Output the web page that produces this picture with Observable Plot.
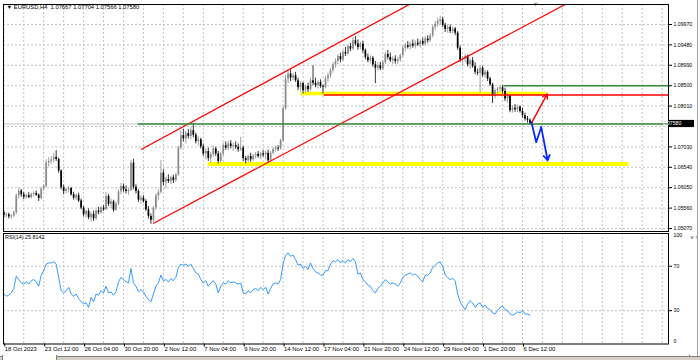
<!DOCTYPE html>
<html><head><meta charset="utf-8">
<script src="https://cdn.jsdelivr.net/npm/d3@7"></script>
<script src="https://cdn.jsdelivr.net/npm/@observablehq/plot@0.6"></script>
<style>
html,body{margin:0;padding:0;background:#fff;}
#chart{position:relative;width:700px;height:360px;overflow:hidden;background:#fff;font-family:"Liberation Sans",Arial,sans-serif;}
#chart svg{position:absolute;left:0;overflow:visible;}
#edge{position:absolute;left:697px;top:0;width:1px;height:360px;background:#a0a0a0;}
#strip{position:absolute;left:0;top:356px;width:700px;height:4px;background:#d4d0c8;border-top:1px solid #808080;}
#tab{position:absolute;left:2px;top:355px;width:53px;height:5px;background:#fff;border-left:1px solid #808080;border-right:1px solid #808080;}
</style></head><body><div id="chart"><div id="edge"></div><div id="strip"></div><div id="tab"></div></div>
<script>
// ---------- data ----------
const symbol = "EURUSD", timeframe = "H4", rsiPeriod = 14;
const opens = [1.0545,1.0538,1.0540,1.0535,1.0537,1.0545,1.0585,1.0597,1.0588,1.0582,1.0586,1.0581,1.0589,1.0591,1.0587,1.0579,1.0602,1.0608,1.0664,1.0668,
1.0672,1.0678,1.0673,1.0645,1.0605,1.0596,1.0600,1.0603,1.0588,1.0580,1.0586,1.0573,1.0556,1.0540,1.0548,1.0533,1.0541,1.0530,1.0549,1.0545,
1.0556,1.0552,1.0584,1.0565,1.0571,1.0551,1.0566,1.0595,1.0608,1.0600,1.0596,1.0598,1.0664,1.0606,1.0596,1.0575,1.0580,1.0572,1.0552,1.0536,
1.0527,1.0556,1.0585,1.0594,1.0640,1.0618,1.0625,1.0620,1.0629,1.0622,1.0636,1.0700,1.0730,1.0722,1.0735,1.0728,1.0742,1.0731,1.0716,1.0720,
1.0703,1.0686,1.0692,1.0675,1.0684,1.0698,1.0686,1.0668,1.0686,1.0706,1.0700,1.0710,1.0704,1.0706,1.0702,1.0696,1.0700,1.0675,1.0670,1.0680,
1.0672,1.0681,1.0685,1.0680,1.0686,1.0683,1.0688,1.0670,1.0688,1.0697,1.0700,1.0698,1.0718,1.0795,1.0866,1.0878,1.0868,1.0874,1.0862,1.0845,
1.0855,1.0838,1.0848,1.0840,1.0862,1.0856,1.0850,1.0858,1.0848,1.0846,1.0866,1.0874,1.0886,1.0900,1.0908,1.0920,1.0912,1.0930,1.0926,1.0944,
1.0938,1.0958,1.0950,1.0942,1.0950,1.0934,1.0918,1.0910,1.0916,1.0900,1.0892,1.0898,1.0890,1.0905,1.0925,1.0918,1.0910,1.0914,1.0908,1.0912,
1.0922,1.0940,1.0946,1.0942,1.0950,1.0945,1.0952,1.0948,1.0956,1.0950,1.0962,1.0958,1.0970,1.0990,1.0998,1.1004,1.1008,1.0995,1.0985,1.0990,
1.0980,1.0986,1.0976,1.0940,1.0912,1.0915,1.0920,1.0900,1.0910,1.0896,1.0882,1.0880,1.0892,1.0875,1.0882,1.0866,1.0852,1.0825,1.0838,1.0842,
1.0845,1.0836,1.0818,1.0825,1.0790,1.0796,1.0792,1.0798,1.0788,1.0778,1.0770,1.07667];
const highs = [1.0550,1.0545,1.0544,1.0541,1.0548,1.0590,1.0604,1.0601,1.0594,1.0590,1.0593,1.0592,1.0595,1.0597,1.0590,1.0606,1.0612,1.0672,1.0677,1.0680,
1.0688,1.0694,1.0676,1.0648,1.0611,1.0604,1.0608,1.0606,1.0594,1.0590,1.0592,1.0578,1.0560,1.0552,1.0554,1.0545,1.0549,1.0553,1.0558,1.0560,
1.0562,1.0593,1.0589,1.0578,1.0575,1.0570,1.0600,1.0615,1.0614,1.0609,1.0603,1.0670,1.0673,1.0612,1.0600,1.0585,1.0586,1.0576,1.0560,1.0542,
1.0560,1.0590,1.0600,1.0670,1.0648,1.0630,1.0636,1.0633,1.0635,1.0640,1.0705,1.0742,1.0745,1.0740,1.0745,1.0750,1.0758,1.0736,1.0728,1.0724,
1.0710,1.0698,1.0700,1.0690,1.0705,1.0702,1.0692,1.0690,1.0712,1.0715,1.0716,1.0718,1.0712,1.0715,1.0710,1.0726,1.0704,1.0680,1.0684,1.0688,
1.0685,1.0690,1.0692,1.0690,1.0694,1.0692,1.0695,1.0692,1.0702,1.0705,1.0706,1.0722,1.0800,1.0875,1.0885,1.0888,1.0880,1.0882,1.0868,1.0860,
1.0858,1.0852,1.0856,1.0868,1.0898,1.0868,1.0862,1.0864,1.0852,1.0872,1.0880,1.0892,1.0905,1.0915,1.0925,1.0928,1.0935,1.0942,1.0948,1.0952,
1.0966,1.0968,1.0960,1.0955,1.0956,1.0938,1.0926,1.0922,1.0920,1.0908,1.0905,1.0906,1.0910,1.0930,1.0935,1.0928,1.0920,1.0922,1.0918,1.0926,
1.0945,1.0952,1.0956,1.0955,1.0960,1.0958,1.0962,1.0960,1.0964,1.0968,1.0970,1.0975,1.0995,1.1005,1.1012,1.1017,1.1014,1.1000,1.0995,1.0996,
1.0992,1.0990,1.0980,1.0945,1.0920,1.0925,1.0924,1.0915,1.0918,1.0905,1.0890,1.0898,1.0896,1.0888,1.0886,1.0870,1.0856,1.0842,1.0846,1.0850,
1.0850,1.0844,1.0830,1.0828,1.0802,1.0805,1.0803,1.0802,1.0796,1.0784,1.0776,1.07704];
const lows = [1.0533,1.0532,1.0530,1.0529,1.0533,1.0540,1.0578,1.0582,1.0576,1.0577,1.0579,1.0578,1.0583,1.0584,1.0572,1.0576,1.0596,1.0604,1.0655,1.0660,
1.0665,1.0668,1.0640,1.0600,1.0588,1.0590,1.0592,1.0585,1.0575,1.0574,1.0570,1.0552,1.0535,1.0532,1.0528,1.0522,1.0524,1.0527,1.0540,1.0541,
1.0548,1.0550,1.0560,1.0555,1.0546,1.0548,1.0562,1.0588,1.0594,1.0590,1.0587,1.0595,1.0600,1.0590,1.0570,1.0565,1.0568,1.0548,1.0530,1.0517,
1.0522,1.0550,1.0575,1.0590,1.0610,1.0602,1.0615,1.0612,1.0615,1.0618,1.0632,1.0695,1.0715,1.0710,1.0722,1.0720,1.0725,1.0710,1.0705,1.0698,
1.0680,1.0672,1.0668,1.0665,1.0678,1.0680,1.0662,1.0665,1.0680,1.0695,1.0694,1.0698,1.0692,1.0697,1.0690,1.0692,1.0668,1.0662,1.0665,1.0666,
1.0668,1.0674,1.0676,1.0672,1.0678,1.0672,1.0664,1.0667,1.0684,1.0690,1.0692,1.0695,1.0714,1.0790,1.0855,1.0860,1.0862,1.0858,1.0838,1.0835,
1.0830,1.0832,1.0834,1.0836,1.0850,1.0845,1.0842,1.0844,1.0830,1.0842,1.0858,1.0868,1.0880,1.0892,1.0900,1.0905,1.0908,1.0920,1.0922,1.0932,
1.0934,1.0945,1.0935,1.0936,1.0928,1.0912,1.0905,1.0902,1.0895,1.0855,1.0885,1.0886,1.0886,1.0900,1.0912,1.0906,1.0900,1.0902,1.0900,1.0906,
1.0918,1.0932,1.0938,1.0936,1.0940,1.0938,1.0944,1.0940,1.0946,1.0945,1.0952,1.0954,1.0965,1.0982,1.0990,1.0996,1.0990,1.0978,1.0976,1.0975,
1.0974,1.0970,1.0935,1.0905,1.0898,1.0905,1.0895,1.0890,1.0892,1.0876,1.0874,1.0832,1.0870,1.0868,1.0860,1.0848,1.0807,1.0818,1.0830,1.0834,
1.0830,1.0812,1.0808,1.0785,1.0784,1.0786,1.0785,1.0784,1.0772,1.0765,1.0760,1.07566];
const closes = [1.0538,1.0540,1.0535,1.0537,1.0545,1.0585,1.0597,1.0588,1.0582,1.0586,1.0581,1.0589,1.0591,1.0587,1.0579,1.0602,1.0608,1.0664,1.0668,1.0672,
1.0678,1.0673,1.0645,1.0605,1.0596,1.0600,1.0603,1.0588,1.0580,1.0586,1.0573,1.0556,1.0540,1.0548,1.0533,1.0541,1.0530,1.0549,1.0545,1.0556,
1.0552,1.0584,1.0565,1.0571,1.0551,1.0566,1.0595,1.0608,1.0600,1.0596,1.0598,1.0664,1.0606,1.0596,1.0575,1.0580,1.0572,1.0552,1.0536,1.0527,
1.0556,1.0585,1.0594,1.0640,1.0618,1.0625,1.0620,1.0629,1.0622,1.0636,1.0700,1.0730,1.0722,1.0735,1.0728,1.0742,1.0731,1.0716,1.0720,1.0703,
1.0686,1.0692,1.0675,1.0684,1.0698,1.0686,1.0668,1.0686,1.0706,1.0700,1.0710,1.0704,1.0706,1.0702,1.0696,1.0700,1.0675,1.0670,1.0680,1.0672,
1.0681,1.0685,1.0680,1.0686,1.0683,1.0688,1.0670,1.0688,1.0697,1.0700,1.0698,1.0718,1.0795,1.0866,1.0878,1.0868,1.0874,1.0862,1.0845,1.0855,
1.0838,1.0848,1.0840,1.0862,1.0856,1.0850,1.0858,1.0848,1.0846,1.0866,1.0874,1.0886,1.0900,1.0908,1.0920,1.0912,1.0930,1.0926,1.0944,1.0938,
1.0958,1.0950,1.0942,1.0950,1.0934,1.0918,1.0910,1.0916,1.0900,1.0892,1.0898,1.0890,1.0905,1.0925,1.0918,1.0910,1.0914,1.0908,1.0912,1.0922,
1.0940,1.0946,1.0942,1.0950,1.0945,1.0952,1.0948,1.0956,1.0950,1.0962,1.0958,1.0970,1.0990,1.0998,1.1004,1.1008,1.0995,1.0985,1.0990,1.0980,
1.0986,1.0976,1.0940,1.0912,1.0915,1.0920,1.0900,1.0910,1.0896,1.0882,1.0880,1.0892,1.0875,1.0882,1.0866,1.0852,1.0825,1.0838,1.0842,1.0845,
1.0836,1.0818,1.0825,1.0790,1.0796,1.0792,1.0798,1.0788,1.0778,1.0770,1.0767,1.07580];
const rsiValues = [45,43,44,46,50,61,58,55,54,56,54,57,58,56,52,62,66,72,73,73,
74,72,60,48,46,48,51,45,43,45,41,38,36,37,33,42,38,45,44,48,
46,52,46,47,44,47,56,60,58,56,55,68,55,52,47,49,47,43,40,38,
45,52,55,62,57,58,56,59,57,60,69,72,71,72,70,72,68,64,63,58,
55,57,52,55,57,54,46,52,55,54,57,55,56,55,54,55,46,45,48,46,
49,50,48,51,49,51,45,50,54,55,54,58,72,80,82,79,80,76,71,72,
68,70,67,73,68,65,64,62,62,66,66,72,75,74,76,73,75,73,76,74,
77,74,63,64,58,56,53,52,48,46,50,52,55,58,56,54,55,54,52,55,
60,62,63,64,62,63,61,58,56,62,62,64,69,71,73,74,70,62,60,58,
59,57,45,38,34,31,36,39,37,33,36,37,33,35,32,31,28,27,30,33,
34,31,30,27,26,27,29,28,30,27,27,25.8142];
const timeTickIdx = [0,16,32,48,64,80,96,112,128,144,160,176,192,208];
const timeLabels = ["18 Oct 2023","23 Oct 12:00","26 Oct 04:00","30 Oct 20:00","2 Nov 12:00","7 Nov 04:00","9 Nov 20:00","14 Nov 12:00","17 Nov 04:00","21 Nov 20:00","24 Nov 12:00","29 Nov 04:00","1 Dec 20:00","6 Dec 12:00"];
const priceGrid = [1.0507,1.0556,1.0605,1.0654,1.0703,1.0752,1.0801,1.0850,1.0899,1.0948,1.0997];
const priceLabels = [1.0507,1.0556,1.0605,1.0654,1.0703,1.0801,1.0850,1.0899,1.0948,1.0997];
const rsiLevels = [30,70];
const bidPrice = 1.07580;
// drawn objects (bar index, price)
const channelLines = [
  {i1:55.06, p1:1.06968, i2:162.6, p2:1.1045},
  {i1:59.87, p1:1.05190, i2:225.1, p2:1.1045}
];
const levelLines = [
  {p:1.07580, from:53.9, color:"#358a35"},
  {p:1.08500, from:200.6, color:"#358a35"},
  {p:1.08277, from:128.5, color:"#ff0000"}
];
const zones = [
  {i1:119.2, i2:217.9, p1:1.08257, p2:1.08344},
  {i1:81.9, i2:250.7, p1:1.06559, p2:1.06655}
];
const upArrow = [{i1:211.6, p1:1.07600, i2:217.9, p2:1.08300}];
const downPath = [{i:211.6,p:1.07623},{i:213.5,p:1.07143},{i:215.5,p:1.07503}];
const downArrow = [{i1:215.5, p1:1.07503, i2:218.1, p2:1.06703}];
const shiftMarker = [213.3];

// ---------- build ----------
const candles = opens.map((o,i)=>({i, o, h:highs[i], l:lows[i], c:closes[i]}));
const rsiData = rsiValues.map((v,i)=>({i, v}));
const xDomain = [-0.12, 266.55];
const xEnd = xDomain[1];
const gridIdx = d3.range(0, 267, 8);
const FONT = '"Liberation Sans", Arial, sans-serif';
const dash = {stroke:"#c4c4c4", strokeOpacity:1, strokeDasharray:"2,2", strokeWidth:1};
const candleColor = d => d.c >= d.o ? "#8a8a8a" : "#000000";
const last = candles[candles.length-1];
const title = `▼ ${symbol},${timeframe}  ${last.o.toFixed(5)} ${last.h.toFixed(5)} ${last.l.toFixed(5)} ${last.c.toFixed(5)}`;

function bidBox(index, scales, values, dims) {
  const y = scales.y(bidPrice);
  const x0 = dims.width - dims.marginRight + 1;
  const g = d3.create("svg:g");
  g.append("rect").attr("x", x0).attr("y", y-3.6).attr("width", 25).attr("height", 7.2).attr("fill", "#000");
  g.append("text").attr("x", x0+3).attr("y", y).attr("dy","0.35em").attr("fill","#fff")
    .attr("font-size", 5.2).attr("font-family", FONT).text(bidPrice.toFixed(5));
  return g.node();
}

const price = Plot.plot({
  width:700, height:232, marginTop:4, marginBottom:1, marginLeft:3, marginRight:32,
  x:{domain:xDomain, axis:null},
  y:{domain:[1.04998,1.1045], axis:null},
  color:{type:"identity"},
  style:{fontFamily:FONT, background:"transparent", overflow:"visible"},
  marks:[
    Plot.gridX(gridIdx, dash),
    Plot.gridY(priceGrid, dash),
    Plot.ruleY([bidPrice], {stroke:"#c8c8c8", strokeWidth:1.2}),
    Plot.rect(zones, {x1:"i1", x2:"i2", y1:"p1", y2:"p2", fill:"#ffff00"}),
    Plot.ruleX(candles, {x:"i", y1:"l", y2:"h", stroke:candleColor, strokeWidth:0.8}),
    Plot.ruleX(candles, {x:"i", y1:"o", y2:"c", stroke:candleColor, strokeWidth:1.7}),
    Plot.link(channelLines, {x1:"i1", y1:"p1", x2:"i2", y2:"p2", stroke:"#ff0000", strokeWidth:1.3, clip:true}),
    Plot.ruleY(levelLines, {y:"p", x1:"from", x2:()=>xEnd, stroke:"color", strokeWidth:1.5}),
    Plot.arrow(upArrow, {x1:"i1", y1:"p1", x2:"i2", y2:"p2", stroke:"#ff0000", strokeWidth:1.5, headLength:5}),
    Plot.line(downPath, {x:"i", y:"p", stroke:"#0a28ff", strokeWidth:1.8}),
    Plot.arrow(downArrow, {x1:"i1", y1:"p1", x2:"i2", y2:"p2", stroke:"#0a28ff", strokeWidth:1.8, headLength:5}),
    Plot.dot(shiftMarker, {x:d=>d, frameAnchor:"top", symbol:"triangle", r:1.6, rotate:180, fill:"#a0a0a0", stroke:null, dy:-0.5}),
    Plot.frame({stroke:"#000", strokeWidth:1}),
    Plot.axisY(priceLabels, {anchor:"right", tickSize:3, tickPadding:2, fontSize:5.2, tickFormat:d=>d.toFixed(5), fill:"#000"}),
    bidBox,
    Plot.text([title], {frameAnchor:"top-left", dx:3, dy:0.8, lineAnchor:"top", textAnchor:"start", fontSize:5.8, fill:"#000"})
  ]
});
price.style.top = "0px";

const rsiPlot = Plot.plot({
  width:700, height:128, marginTop:1, marginBottom:16.5, marginLeft:3, marginRight:32,
  x:{domain:xDomain, axis:null},
  y:{domain:[0,99.5], axis:null},
  style:{fontFamily:FONT, background:"transparent", overflow:"visible"},
  marks:[
    Plot.gridX(gridIdx, dash),
    Plot.gridY(rsiLevels, dash),
    Plot.line(rsiData, {x:"i", y:"v", stroke:"#1e90ff", strokeWidth:0.9}),
    Plot.frame({stroke:"#000", strokeWidth:1}),
    Plot.axisY(rsiLevels, {anchor:"right", tickSize:3, tickPadding:2, fontSize:5.2, fill:"#000"}),
    Plot.text([100], {y:d=>d, text:d=>String(d), frameAnchor:"right", dx:5, dy:2.6, textAnchor:"start", fontSize:5.2, fill:"#000"}),
    Plot.text([0], {y:d=>d, text:d=>String(d), frameAnchor:"right", dx:5, dy:-3, textAnchor:"start", fontSize:5.2, fill:"#000"}),
    Plot.axisX(timeTickIdx, {anchor:"bottom", tickSize:3, tickPadding:-0.5, textAnchor:"start", dx:1, fontSize:5.9, fill:"#000",
      tickFormat:d=>timeLabels[timeTickIdx.indexOf(d)]}),
    Plot.text([`RSI(${rsiPeriod}) ${rsiValues[rsiValues.length-1].toFixed(4)}`], {frameAnchor:"top-left", dx:1.5, dy:1.5, lineAnchor:"top", textAnchor:"start", fontSize:5.4, fill:"#000"})
  ]
});
rsiPlot.style.top = "232px";

const root = document.getElementById("chart");
root.insertBefore(rsiPlot, root.firstChild);
root.insertBefore(price, root.firstChild);
</script></body></html>
